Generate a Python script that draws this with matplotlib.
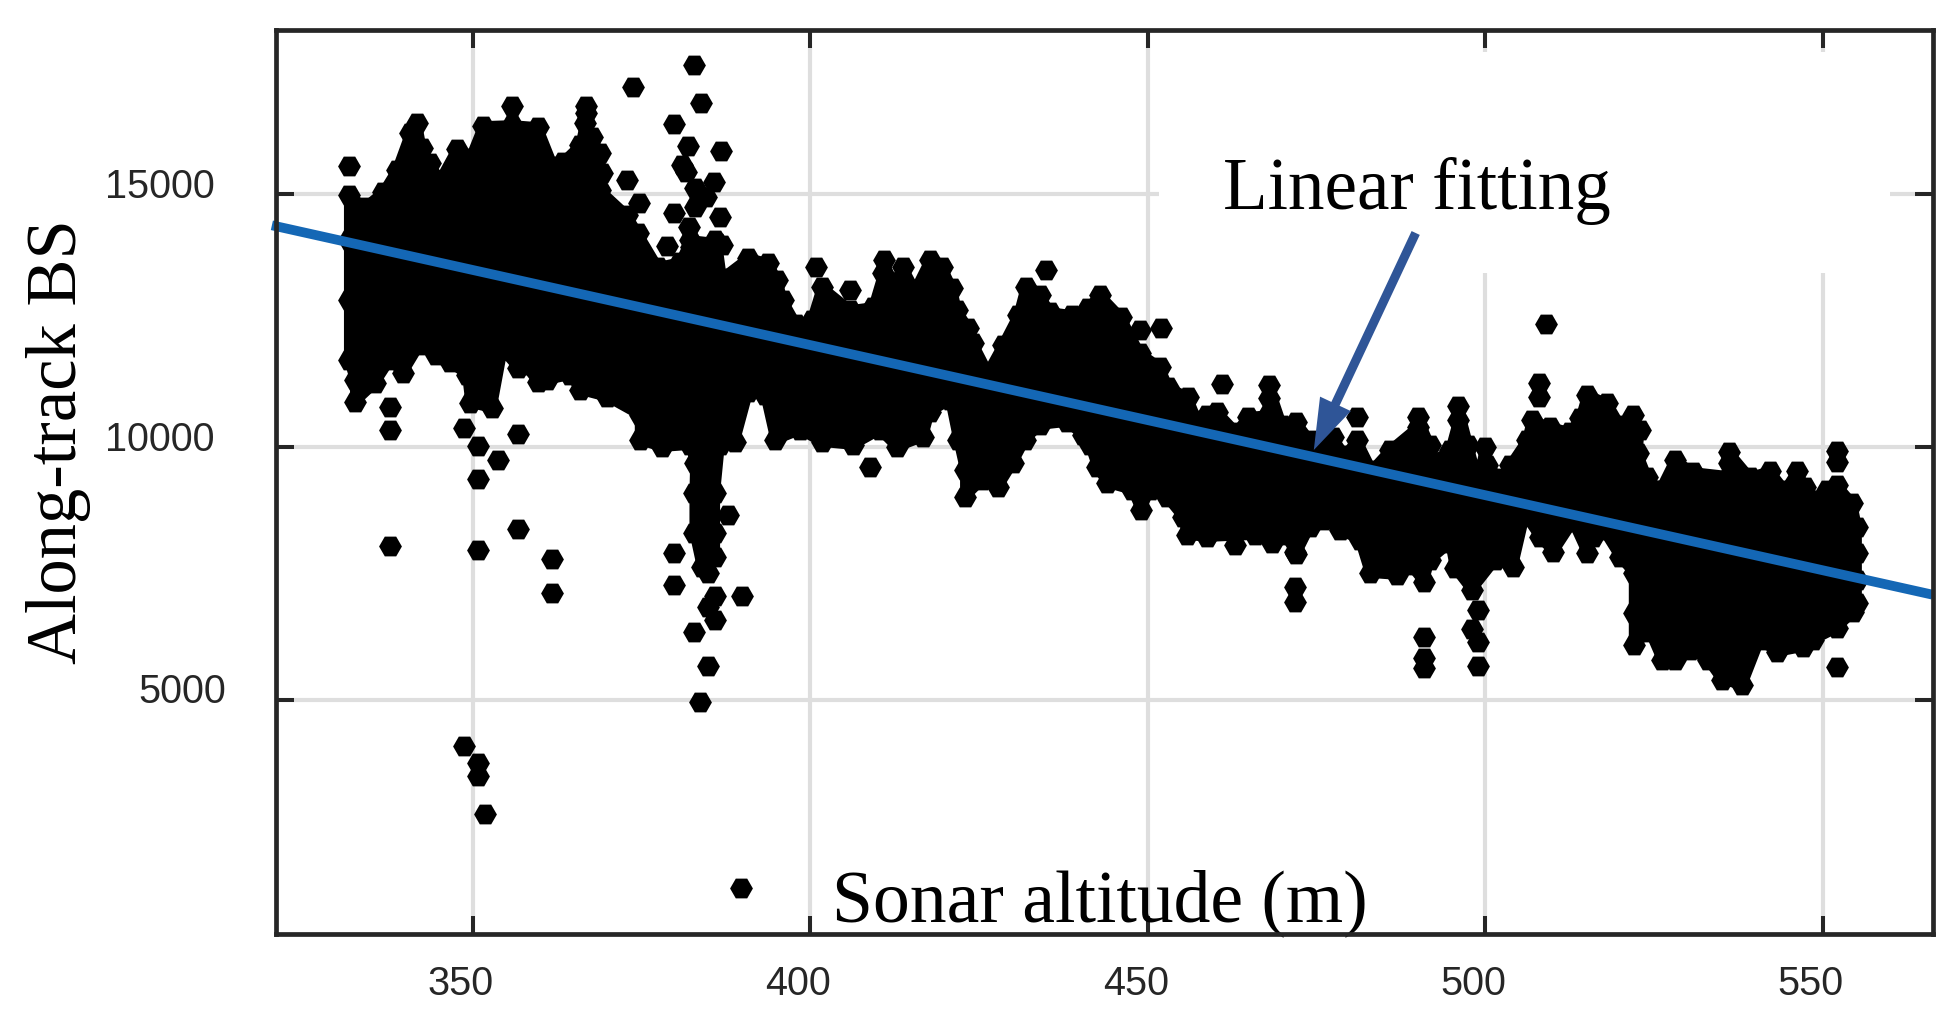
import numpy as np
import matplotlib
matplotlib.use('Agg')
import matplotlib.pyplot as plt
from matplotlib.patches import Rectangle
from matplotlib.transforms import ScaledTranslation

# upper edge of the dense cloud, left to right (sonar altitude, along-track BS)
top_alt = [331.6, 334.0, 336.7, 338.7, 340.7, 341.7, 342.4, 343.6, 345.1, 347.6, 349.6, 351.5, 355.8, 359.6, 361.9,
           363.3, 365.9, 366.6, 367.6, 368.8, 369.1, 368.8, 372.8, 374.4, 377.4, 380.7, 382.2, 386.2, 386.9, 390.8,
           393.7, 395.1, 395.9, 397.9, 400.2, 401.7, 405.9, 409.3, 410.8, 410.9, 412.2, 413.7, 415.5, 417.7, 419.5,
           421.0, 421.7, 423.4, 424.1, 426.3, 428.5, 430.8, 431.9, 434.0, 435.5, 438.8, 441.1, 442.9, 446.0, 448.8,
           451.8, 453.0, 455.9, 457.3, 458.8, 460.3, 463.1, 464.8, 467.8, 467.9, 467.9, 469.9, 472.0, 474.0, 477.4,
           479.2, 481.0, 483.2, 485.9, 490.0, 490.0, 491.8, 492.1, 494.8, 496.0, 496.0, 497.5, 498.9, 500.0, 500.3,
           502.2, 503.7, 506.2, 506.9, 509.6, 512.6, 514.1, 515.1, 518.1, 520.0, 521.9, 522.9, 522.6, 524.0, 525.2,
           525.9, 528.1, 530.8, 536.1, 536.1, 536.1, 539.2, 542.2, 544.4, 546.2, 547.4, 549.3, 550.7, 552.1, 554.4,
           555.1, 555.1, 555.1, 555.1]
top_bs = [14990, 14752, 15049, 15485, 16218, 16415, 15921, 15624, 15287, 15901, 15723, 16356, 16376, 16336, 15564,
          15643, 15980, 16416, 16138, 15822, 15425, 15089, 14594, 14237, 13564, 13663, 14099, 14040, 13347, 13743,
          13644, 13307, 12911, 12436, 12515, 13168, 12713, 12772, 13446, 13703, 13208, 13564, 13109, 13703, 13564,
          13149, 12713, 12356, 12059, 11485, 12020, 12614, 13168, 13010, 12673, 12614, 12753, 13010, 12574, 11861,
          11584, 11188, 10990, 10535, 10634, 10693, 10298, 10594, 10634, 10971, 11228, 10436, 10495, 10139, 10198,
          9842, 10139, 9545, 9941, 10396, 10594, 10040, 9703, 9941, 10535, 10812, 10040, 9347, 10000, 9644,
          9386, 9644, 10139, 10535, 10396, 10298, 10575, 11030, 10871, 10436, 10634, 10337, 9881, 9406, 9149,
          9149, 9743, 9505, 9426, 9683, 9901, 9406, 9525, 9149, 9525, 9208, 8951, 9149, 9248, 8891,
          8416, 7901, 7367, 6911]

# lower edge of the dense cloud, right to left
low_alt = [554.5, 552.1, 548.6, 547.1, 543.2, 540.7, 538.1, 535.1, 533.0, 530.4, 528.1, 526.2, 524.4, 522.0, 522.0,
           522.0, 520.0, 517.5, 516.0, 515.1, 513.0, 510.1, 508.1, 505.9, 504.1, 501.5, 498.0, 495.5, 494.8, 491.8,
           490.9, 488.9, 486.9, 482.9, 481.4, 478.5, 476.0, 474.0, 472.0, 470.3, 468.4, 465.9, 458.8, 455.8, 455.2,
           452.8, 450.3, 449.0, 447.7, 444.0, 442.5, 441.4, 440.4, 438.0, 434.0, 431.8, 430.0, 427.8, 425.4, 422.9,
           422.9, 421.9, 420.7, 417.7, 416.7, 412.8, 410.3, 406.3, 401.7, 398.5, 394.8, 393.3, 390.8, 388.8, 386.6,
           385.9, 385.9, 385.9, 384.8, 383.9, 382.8, 382.8, 382.9, 382.2, 378.0, 374.7, 374.7, 369.9, 365.9, 364.4,
           361.0, 359.6, 357.7, 356.7, 354.4, 352.8, 349.6, 349.1, 346.6, 344.5, 342.1, 339.6, 337.7, 335.5, 332.5,
           332.5, 331.6, 331.6, 331.6]
low_bs = [6733, 6416, 6179, 6040, 5941, 6179, 5288, 5387, 5783, 5981, 5783, 5783, 6337, 6080, 6713,
          7506, 7822, 8357, 8218, 7901, 8515, 7921, 8218, 8654, 7624, 7763, 7169, 7605, 8100, 7763,
          7327, 7664, 7466, 7506, 8159, 8357, 8555, 8416, 7882, 8258, 8099, 8258, 8218, 8258, 8615,
          9010, 9149, 8753, 9149, 9287, 9604, 10040, 10238, 10495, 10436, 10139, 9683, 9208, 9347, 9010,
          9545, 10139, 10931, 10693, 10198, 10000, 10337, 10040, 10099, 10337, 10139, 11030, 11089, 10099, 10040,
          9089, 8298, 7822, 7506, 7624, 8298, 9089, 9683, 10040, 9999, 10139, 10634, 10990, 11129, 11426,
          11327, 11287, 11624, 11565, 11921, 10773, 10871, 11426, 11683, 11822, 12020, 11465, 11723, 11267, 10891,
          11327, 11723, 12911, 14099]

# points that stand clear of the cloud
out_alt = [331.6, 337.7, 337.7, 337.7, 348.7, 350.7, 353.7, 350.7, 356.7, 356.7, 350.7, 361.7, 361.7, 348.7, 350.7,
           350.7, 351.8, 389.7, 355.8, 366.7, 366.7, 372.8, 374.6, 373.7, 382.8, 383.8, 379.8, 381.9, 386.8, 381.0,
           381.6, 385.7, 382.9, 384.5, 386.6, 379.8, 382.9, 378.7, 385.9, 386.9, 382.0, 382.3, 379.8, 379.8, 387.8,
           389.9, 385.9, 384.8, 385.9, 382.8, 384.8, 383.7, 400.8, 405.8, 408.8, 434.9, 448.8, 451.9, 461.0, 481.0,
           471.8, 471.8, 471.8, 462.9, 499.0, 498.0, 499.0, 499.0, 490.9, 490.9, 490.9, 508.0, 508.0, 509.0, 552.1,
           552.1, 552.1]
out_bs = [15564, 10792, 10337, 8040, 10377, 10020, 9743, 9367, 10258, 8377, 7961, 7783, 7110, 4080, 3744,
          3486, 2734, 1269, 16752, 16752, 16614, 15287, 14832, 17128, 17564, 16812, 16396, 15960, 15861, 15584,
          15445, 15247, 15129, 14950, 14555, 14634, 14752, 13980, 14099, 14000, 14356, 13960, 7902, 7268, 8654,
          7050, 7050, 6832, 6575, 6337, 5664, 4951, 13564, 13109, 9604, 13505, 12317, 12356, 11247, 10594,
          7921, 7228, 6931, 8060, 6773, 6396, 6139, 5664, 6238, 5823, 5625, 11268, 10990, 12436, 9921,
          9703, 5644]

# fitted line, end points
fit_alt = [320.2, 566.3]
fit_bs = [14390, 7076]

x_ticks = [350, 400, 450, 500, 550]
y_ticks = [5000, 10000, 15000]

dark = '#262626'
plt.rcParams['font.family'] = ['Liberation Sans', 'DejaVu Sans']

fig = plt.figure(figsize=(19.6, 10.21), dpi=100)
ax = fig.add_axes([276 / 1960, (1021 - 934) / 1021, 1657 / 1960, 904 / 1021])
ax.set_xlim(320.81, 566.36)
ax.set_ylim(358, 18257)

# cloud body, edge kept thin enough that the markers give the bumpy outline
cloud_x = top_alt + low_alt
cloud_y = top_bs + low_bs
ax.fill(cloud_x, cloud_y, facecolor='black', edgecolor='black', lw=7, joinstyle='round', zorder=2)
ax.scatter(cloud_x, cloud_y, marker='H', s=270, color='black', linewidths=0, zorder=2)
ax.scatter(out_alt, out_bs, marker='H', s=270, color='black', linewidths=0, zorder=2)

ax.plot(fit_alt, fit_bs, color='#1467B5', lw=7, solid_capstyle='butt', clip_on=False, zorder=5)

# white box behind the annotation hides part of the grid
ax.add_patch(Rectangle((451.7, 13445), 108.3, 4376, facecolor='white', edgecolor='none', zorder=1))

ax.set_axisbelow(True)
ax.grid(True, color='#DEDEDE', lw=3)
for side in ax.spines.values():
    side.set_linewidth(3.4)
    side.set_color(dark)
    side.set_zorder(6)

ax.set_xticks(x_ticks)
ax.set_yticks(y_ticks)
ax.tick_params(axis='both', direction='in', length=13, width=2.9, color=dark, labelcolor=dark, labelsize=28.5,
               top=True, right=True)
ax.tick_params(axis='x', pad=22)
ax.tick_params(axis='y', pad=44)

# tick labels sit off-centre in the original
for lab in ax.get_xticklabels():
    lab.set_transform(lab.get_transform() + ScaledTranslation(-0.12, 0, fig.dpi_scale_trans))
for lab, val in zip(ax.get_yticklabels(), y_ticks):
    dx = 0.11 if val == 5000 else 0
    lab.set_transform(lab.get_transform() + ScaledTranslation(dx, 0.115, fig.dpi_scale_trans))

ax.set_xlabel('Sonar altitude (m)', family=['Liberation Serif'], fontsize=53, color='black', va='baseline')
ax.xaxis.set_label_coords(0.497, 0.0138)
ax.set_ylabel('Along-track BS', family=['Liberation Serif'], fontsize=50.8, color='black', va='baseline')
ax.yaxis.set_label_coords(-0.1207, 0.545)

ax.text(461.2, 14712, 'Linear fitting', family=['Liberation Serif'], fontsize=52.7, color='black', zorder=7)
ax.annotate('', xy=(474.6, 9941), xytext=(489.7, 14238), zorder=7,
            arrowprops=dict(arrowstyle='simple,head_length=36.7,head_width=24.5,tail_width=6.5', mutation_scale=1,
                            shrinkA=0, shrinkB=0, color='#2F5597', lw=0))

fig.savefig('out.png', dpi=100)
